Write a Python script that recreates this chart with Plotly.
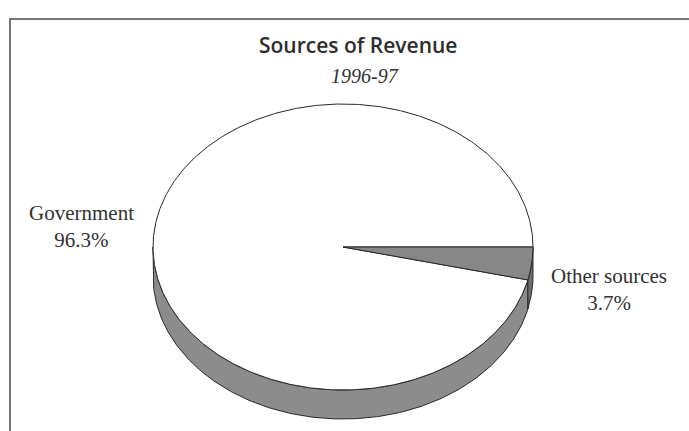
import numpy as np
import plotly.graph_objects as go

# Revenue breakdown, 1996-97
categories = ["Government", "Other sources"]
shares = [96.3, 3.7]
title_text = "Sources of Revenue"
subtitle_text = "1996-97"

W, H = 689, 431

# Pie geometry in page pixels (y grows downward)
cx, cy = 343.0, 247.0
rx, ry = 190.0, 143.0
depth = 29.0

wall_color = "rgb(140,140,140)"
wedge_color = "rgb(135,135,135)"
edge_color = "rgb(40,40,40)"

total = sum(shares)
# "Other sources" starts at 3 o'clock and runs clockwise; the rest fills the remainder
theta_other = 2 * np.pi * shares[1] / total


def arc(t0, t1, dy=0.0, n=200):
    t = np.linspace(t0, t1, n)
    return cx + rx * np.cos(t), cy + dy + ry * np.sin(t)


def wall(t0, t1):
    # visible side of the disc between angles t0..t1 (front half only)
    a = max(t0, 0.0)
    b = min(t1, np.pi)
    xt, yt = arc(a, b)
    xb, yb = arc(b, a, dy=depth)
    return np.concatenate([xt, xb, xt[:1]]), np.concatenate([yt, yb, yt[:1]])


fig = go.Figure()

# side walls
for (t0, t1), col in [((theta_other, 2 * np.pi), wall_color), ((0.0, theta_other), "rgb(110,110,110)")]:
    x, y = wall(t0, t1)
    fig.add_trace(go.Scatter(x=x, y=y, mode="lines", fill="toself", fillcolor=col,
                             line=dict(color=edge_color, width=1), hoverinfo="skip"))

# top face: Government slice
xg, yg = arc(theta_other, 2 * np.pi, n=600)
fig.add_trace(go.Scatter(x=np.concatenate([[cx], xg, [cx]]), y=np.concatenate([[cy], yg, [cy]]),
                         mode="lines", fill="toself", fillcolor="white",
                         line=dict(color=edge_color, width=1), hoverinfo="skip"))

# top face: Other sources slice
xo, yo = arc(0.0, theta_other, n=60)
fig.add_trace(go.Scatter(x=np.concatenate([[cx], xo, [cx]]), y=np.concatenate([[cy], yo, [cy]]),
                         mode="lines", fill="toself", fillcolor=wedge_color,
                         line=dict(color=edge_color, width=1), hoverinfo="skip"))

# outer frame
fig.add_shape(type="rect", x0=10, y0=19, x1=W + 20, y1=H + 20,
              line=dict(color="rgb(120,120,120)", width=2), fillcolor="rgba(0,0,0,0)")

serif = "Liberation Serif, Times New Roman, serif"
label_font = dict(family=serif, size=21, color="rgb(50,50,50)")

fig.add_annotation(x=358, y=45, text=title_text, showarrow=False, xref="x", yref="y",
                   font=dict(family="Open Sans, sans-serif", size=21, weight=600,
                             color="rgb(45,45,45)"))
fig.add_annotation(x=365, y=76, text=f"<i>{subtitle_text}</i>", showarrow=False, xref="x", yref="y",
                   font=dict(family=serif, size=20, color="rgb(50,50,50)"))

fig.add_annotation(x=81, y=226, text=f"{categories[0]}<br>{shares[0]}%", showarrow=False,
                   xref="x", yref="y", align="center", font=label_font)
fig.add_annotation(x=609, y=289, text=f"{categories[1]}<br>{shares[1]}%", showarrow=False,
                   xref="x", yref="y", align="center", font=label_font)

fig.update_layout(
    width=W, height=H,
    margin=dict(l=0, r=0, t=0, b=0),
    paper_bgcolor="white", plot_bgcolor="white",
    showlegend=False,
    xaxis=dict(range=[0, W], visible=False, fixedrange=True),
    yaxis=dict(range=[H, 0], visible=False, fixedrange=True),
)

fig.write_html("out.html")
